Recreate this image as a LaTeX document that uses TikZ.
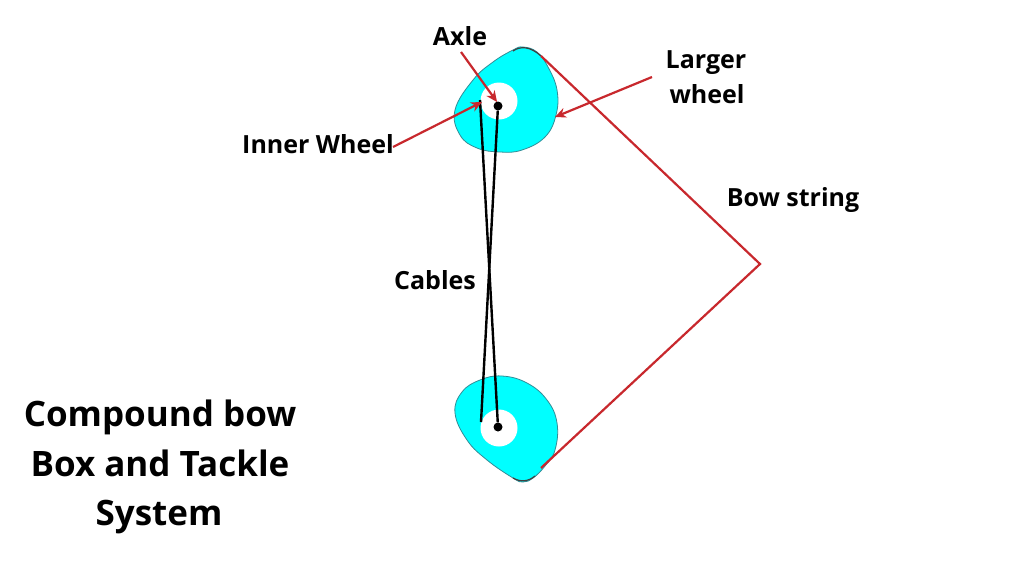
\documentclass[tikz,border=0pt]{standalone}
\usepackage{fontspec}
\setmainfont{Open Sans}
\usepackage{tikz}
\usetikzlibrary{arrows.meta}
\definecolor{wheelcyan}{RGB}{0,255,255}
\definecolor{wheeledge}{RGB}{50,140,150}
\definecolor{stringred}{RGB}{200,40,45}
\tikzset{
    wheel/.style={fill=wheelcyan, draw=wheeledge, line width=0.8pt},
    hole/.style={circle, fill=white, minimum size=37pt, inner sep=0pt},
    axle/.style={circle, fill=black, minimum size=9pt, inner sep=0pt},
    cable/.style={draw=black, line width=2.4pt},
    bowstring/.style={draw=stringred, line width=2.2pt},
    wheeltip/.style={draw=black!75, line width=1.2pt},
    pointer/.style={draw=stringred, line width=2.2pt, -{Stealth[length=11pt, width=10pt]}},
    label/.style={font=\bfseries\fontsize{25}{30}\selectfont, text=black, inner sep=0pt, anchor=base},
    title/.style={font=\bfseries\fontsize{35}{42}\selectfont, text=black, inner sep=0pt, anchor=base}
}
\begin{document}
\begin{tikzpicture}[x=1pt, y=-1pt]
    \useasboundingbox[fill=white] (0, 0) rectangle (1024, 576);
    % wheels
    \draw[wheel] plot[smooth cycle, tension=0.7] coordinates {(523,47) (537,52) (548,67) (557,90) (556,115) (545,137) (522,150) (500,152) (477,148) (460,135) (455,110) (473,80) (493,62) (513,50)};
    \draw[wheel] plot[smooth cycle, tension=0.7] coordinates {(502,376) (527,383) (547,400) (557,423) (555,450) (545,466) (533,478) (523,482) (513,478) (487,460) (467,440) (455,413) (462,392) (480,380)};
    \draw[wheeltip] (513,51) .. controls (520,46) and (530,46) .. (541,56);
    \draw[wheeltip] (513,478) .. controls (520,482) and (528,482) .. (535,476);
    \node[hole] (tophole) at (499, 101) {};
    \node[hole] (bottomhole) at (499, 428) {};
    \node[axle] (topaxle) at (498, 106) {};
    \node[axle] (bottomaxle) at (498, 427) {};
    % cables
    \coordinate (topedge) at (480, 100);
    \coordinate (bottomedge) at (481, 422);
    \draw[cable] (topedge) -- (bottomaxle);
    \draw[cable] (topaxle) -- (bottomedge);
    % string
    \coordinate (stringtop) at (541, 56);
    \coordinate (nock) at (760, 264);
    \coordinate (stringbottom) at (541, 468);
    \draw[bowstring] (stringtop) -- (nock) -- (stringbottom);
    % labels
    \node[label] (axlelabel) at (460, 45) {Axle};
    \node[label] (largerlabel) at (706, 68) {Larger};
    \node[label] (wheellabel) at (707, 103) {wheel};
    \node[label] (innerlabel) at (318, 153) {Inner Wheel};
    \node[label] (bowlabel) at (793, 206) {Bow string};
    \node[label] (cableslabel) at (435, 289) {Cables};
    \node[title] (title1) at (160, 426) {Compound bow};
    \node[title] (title2) at (160, 476) {Box and Tackle};
    \node[title] (title3) at (159, 525) {System};
    % pointers
    \coordinate (axlestart) at (461, 52);
    \coordinate (axletip) at (497, 102);
    \coordinate (innerstart) at (393, 147);
    \coordinate (innertip) at (482, 102);
    \coordinate (largerstart) at (652, 77);
    \coordinate (largertip) at (555, 117);
    \draw[pointer] (axlestart) -- (axletip);
    \draw[pointer] (innerstart) -- (innertip);
    \draw[pointer] (largerstart) -- (largertip);
\end{tikzpicture}
\end{document}
